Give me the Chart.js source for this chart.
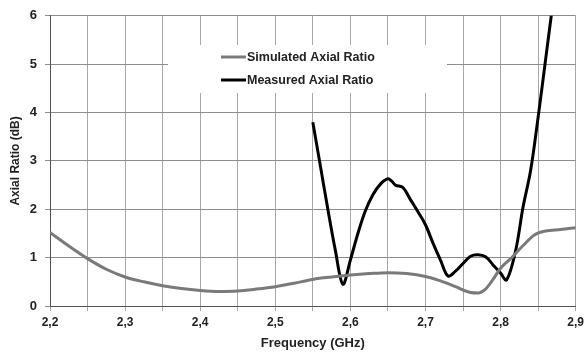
<!DOCTYPE html>
<html>
<head>
<meta charset="utf-8">
<script src="https://cdn.jsdelivr.net/npm/chart.js@4.4.0/dist/chart.umd.min.js"></script>
<style>
  html, body { margin: 0; padding: 0; background: #fff; }
  #wrap { width: 588px; height: 352px; }
</style>
</head>
<body>
<div id="wrap"><canvas id="chart"></canvas></div>
<script>
// values
var simFreq = [2.2, 2.225, 2.25, 2.275, 2.3, 2.325, 2.35, 2.375, 2.4, 2.425, 2.45, 2.475, 2.5, 2.525, 2.55, 2.575, 2.6, 2.625, 2.65, 2.675, 2.7, 2.72, 2.74, 2.76, 2.77, 2.78, 2.79, 2.8, 2.815, 2.83, 2.845, 2.86, 2.88, 2.9];
var simAR   = [1.52, 1.24, 0.98, 0.76, 0.6, 0.5, 0.42, 0.36, 0.32, 0.3, 0.31, 0.35, 0.4, 0.47, 0.55, 0.6, 0.64, 0.67, 0.69, 0.67, 0.61, 0.52, 0.4, 0.28, 0.27, 0.35, 0.55, 0.78, 1.0, 1.25, 1.47, 1.55, 1.58, 1.62];

var measFreq = [2.55, 2.56, 2.57, 2.58, 2.59, 2.6, 2.61, 2.62, 2.63, 2.64, 2.65, 2.655, 2.66, 2.67, 2.68, 2.69, 2.7, 2.71, 2.72, 2.73, 2.74, 2.75, 2.76, 2.77, 2.78, 2.79, 2.8, 2.808, 2.82, 2.83, 2.84, 2.85, 2.86, 2.87];
var measAR   = [3.8, 2.9, 2.0, 1.15, 0.45, 0.95, 1.5, 1.97, 2.3, 2.52, 2.63, 2.58, 2.5, 2.45, 2.2, 1.95, 1.68, 1.3, 0.95, 0.62, 0.72, 0.88, 1.03, 1.06, 1.02, 0.85, 0.68, 0.54, 1.14, 2.05, 2.8, 3.9, 5.1, 6.3];

var yTicks = [0, 1, 2, 3, 4, 5, 6];
var seriesNames = ['Simulated Axial Ratio', 'Measured Axial Ratio'];
var seriesColors = ['#7a7a7a', '#000000'];

function toPoints(xs, ys) {
  return xs.map(function(x, i) { return {x: x, y: ys[i]}; });
}

// white box with the legend inside the plot
var boxLegend = {
  id: 'boxLegend',
  beforeDatasetsDraw: function(chart) {
    var ctx = chart.ctx;
    ctx.save();
    ctx.fillStyle = '#fff';
    ctx.fillRect(168, 45, 279, 48);
    ctx.font = 'bold 12.5px "Liberation Sans", Arial, sans-serif';
    ctx.textBaseline = 'middle';
    var rows = [57, 80];
    chart.data.datasets.forEach(function(ds, i) {
      ctx.strokeStyle = ds.borderColor;
      ctx.lineWidth = 3;
      ctx.beginPath();
      ctx.moveTo(221, rows[i]);
      ctx.lineTo(246, rows[i]);
      ctx.stroke();
      ctx.fillStyle = '#222';
      ctx.fillText(ds.label, 247, rows[i] + 1);
    });
    ctx.restore();
  }
};

new Chart(document.getElementById('chart'), {
  type: 'scatter',
  data: {
    datasets: [
      {
        label: seriesNames[0],
        data: toPoints(simFreq, simAR),
        showLine: true,
        borderColor: seriesColors[0],
        borderWidth: 3,
        pointRadius: 0,
        cubicInterpolationMode: 'monotone'
      },
      {
        label: seriesNames[1],
        data: toPoints(measFreq, measAR),
        showLine: true,
        borderColor: seriesColors[1],
        borderWidth: 3,
        pointRadius: 0,
        tension: 0.35
      }
    ]
  },
  options: {
    responsive: true,
    maintainAspectRatio: false,
    animation: false,
    layout: { padding: { top: 14, right: 0, left: 0, bottom: 1 } },
    plugins: {
      legend: { display: false },
      tooltip: { enabled: false }
    },
    scales: {
      x: {
        type: 'linear',
        min: 2.2,
        max: 2.9,
        afterBuildTicks: function(scale) {
          var t = [];
          for (var k = 0; k <= 14; k++) t.push({value: Math.round((2.2 + k * 0.05) * 100) / 100});
          scale.ticks = t;
        },
        ticks: {
          color: '#222',
          font: { family: '"Liberation Sans", Arial, sans-serif', size: 12, weight: 'bold' },
          maxRotation: 0,
          autoSkip: false,
          padding: 4,
          callback: function(v) {
            var c = Math.round(v * 100);
            if (c % 10 !== 0) return '';
            return (c / 100).toFixed(1).replace('.', ',');
          }
        },
        grid: { color: '#a8a8a8', lineWidth: 1, tickLength: 5 },
        border: { color: '#555', width: 1 },
        title: {
          display: true,
          text: 'Frequency (GHz)',
          color: '#222',
          font: { family: '"Liberation Sans", Arial, sans-serif', size: 13, weight: 'bold' },
          padding: { top: 2, bottom: 0 }
        }
      },
      y: {
        min: 0,
        max: 6,
        afterBuildTicks: function(scale) {
          scale.ticks = yTicks.map(function(v) { return {value: v}; });
        },
        afterFit: function(scale) { scale.width = 50; },
        ticks: {
          color: '#222',
          font: { family: '"Liberation Sans", Arial, sans-serif', size: 13, weight: 'bold' },
          padding: 8
        },
        grid: { color: '#8c8c8c', lineWidth: 1, tickLength: 5 },
        border: { color: '#555', width: 1 },
        title: {
          display: true,
          text: 'Axial Ratio (dB)',
          color: '#222',
          font: { family: '"Liberation Sans", Arial, sans-serif', size: 12, weight: 'bold' },
          padding: { top: 8, bottom: 0 }
        }
      }
    }
  },
  plugins: [boxLegend]
});
</script>
</body>
</html>
